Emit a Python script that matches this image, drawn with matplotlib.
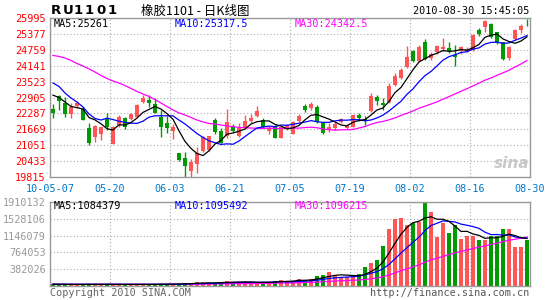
import numpy as np
import pandas as pd
import matplotlib
matplotlib.use('Agg')
import matplotlib.pyplot as plt

# daily K line of RU1101, 2010-05-07 .. 2010-08-30
open_ = [22460, 22965, 22705, 22250, 22575, 22445, 21710, 21360, 21485, 22060,
         21110, 21835, 22095, 22070, 22135, 22730, 22810, 22655, 22160, 21925,
         21615, 20735, 20540, 20060, 20320, 20835, 20855, 22030, 21605, 21420,
         21745, 21420, 21710, 22005, 22200, 22030, 21605, 21795, 21320, 21710,
         21485, 21990, 22575, 22485, 22525, 21900, 21680, 21710, 21965, 21710,
         21770, 22225, 22070, 22390, 22935, 22690, 22720, 23390, 23650, 24080,
         24715, 24335, 25075, 24450, 24685, 24780, 24820, 24555, 24715, 24725,
         24750, 25530, 25655, 25760, 25440, 25050, 24430, 25180, 25530, 25850]
high = [22650, 22990, 22935, 22705, 22770, 22550, 21900, 21835, 21770, 22290,
        21790, 22225, 22130, 22315, 22650, 22990, 22990, 22875, 22420, 22185,
        21875, 20760, 20800, 20505, 20995, 21410, 21420, 22120, 21730, 22460,
        21865, 21900, 22225, 22250, 22575, 22095, 21810, 21820, 21770, 21875,
        21990, 22265, 22655, 22720, 22615, 21965, 21900, 21940, 22120, 21865,
        22265, 22290, 22200, 23070, 23000, 22875, 23455, 23845, 24040, 24920,
        24750, 24945, 25165, 24685, 24945, 25205, 25075, 24945, 24920, 24880,
        25360, 25620, 25920, 25790, 25465, 25075, 24905, 25570, 25750, 25945]
low = [22120, 22420, 22160, 22120, 22485, 22020, 21060, 21185, 21255, 21640,
       21110, 21770, 21690, 22030, 22135, 22705, 22550, 22290, 21380, 21515,
       21305, 20450, 19815, 19825, 19960, 20800, 20835, 21475, 21125, 21320,
       21575, 21380, 21670, 21900, 22160, 21710, 21485, 21320, 21320, 21640,
       21475, 21940, 22355, 22420, 21900, 21475, 21555, 21640, 21900, 21670,
       21745, 21990, 21835, 22355, 22615, 22420, 22680, 23365, 23625, 24040,
       24295, 24295, 24365, 24365, 24585, 24715, 24625, 24140, 24585, 24660,
       24715, 25305, 25465, 25205, 25000, 24365, 24365, 25140, 25400, 25690]
close = [22305, 22770, 22250, 22525, 22705, 22020, 21125, 21795, 21770, 21745,
         21770, 22135, 21745, 22265, 22615, 22875, 22705, 22315, 21770, 21730,
         21770, 20475, 20245, 20410, 20735, 21380, 21400, 21555, 21125, 21940,
         21615, 21730, 21990, 22095, 22390, 21770, 21730, 21320, 21770, 21835,
         21965, 22200, 22420, 22655, 21965, 21515, 21770, 21865, 22070, 21795,
         22225, 22095, 22030, 22975, 22770, 22615, 23365, 23755, 23975, 24490,
         24335, 24880, 24400, 24595, 24920, 24855, 24725, 24490, 24855, 24790,
         25335, 25375, 25880, 25245, 25020, 24385, 24880, 25530, 25685, 25830]
volume = [35000, 30000, 32000, 28000, 30000, 33000, 38000, 30000, 29000, 31000,
          34000, 30000, 28000, 30000, 33000, 31000, 30000, 35000, 40000, 38000,
          36000, 45000, 62000, 55000, 85000, 62000, 62000, 58000, 85000, 115000,
          85000, 75000, 78000, 75000, 78000, 80000, 75000, 108000, 130000, 100000,
          115000, 155000, 125000, 155000, 222000, 245000, 314000, 252000, 206000, 192000,
          206000, 268000, 428000, 520000, 596000, 903000, 1299000, 1535000, 1551000, 1398000,
          1437000, 1460000, 1910132, 1689000, 1116000, 1437000, 1207000, 1384000, 1070000, 1132000,
          1130000, 1047000, 1047000, 1130000, 1130000, 1300000, 1300000, 880000, 880000, 1050000]

# moving averages at the left edge (they depend on days before the window)
ma5_head = [22995, 22905, 22730, 22555]
ma10_head = [23470, 23335, 23080, 22885, 22730, 22535, 22265, 22090, 22030]
ma30_head = [24540, 24500, 24440, 24345, 24225, 24130, 24015, 23895, 23760, 23645,
             23545, 23470, 23370, 23255, 23140, 23040, 22945, 22825, 22690, 22555,
             22420, 22305, 22225, 22130, 22030, 21955, 21895, 21875, 21835]

price_ticks = [19815, 20433, 21051, 21669, 22287, 22905, 23523, 24141, 24759, 25377, 25995]
vol_ticks = [382026, 764053, 1146079, 1528106, 1910132]
date_labels = ['10-05-07', '05-20', '06-03', '06-21', '07-05', '07-19', '08-02', '08-16', '08-30']

RED = '#ff5555'
GREEN = '#009900'
FRAME = '#999999'
MONO = 'DejaVu Sans Mono'

W, H = 545, 300


def px(x, y):
    return x / W, 1 - y / H


o = np.array(open_, float)
c = np.array(close, float)
n = len(c)
x = np.arange(n)
up = c >= o
colors = [RED if u else GREEN for u in up]

s = pd.Series(c)
ma5 = s.rolling(5).mean().to_numpy()
ma10 = s.rolling(10).mean().to_numpy()
ma30 = s.rolling(30).mean().to_numpy()
ma5[:4] = ma5_head
ma10[:9] = ma10_head
ma30[:29] = ma30_head

v = pd.Series(volume, dtype=float)
vma5 = v.rolling(5, min_periods=1).mean()
vma10 = v.rolling(10, min_periods=1).mean()
vma30 = v.rolling(30, min_periods=1).mean()

fig = plt.figure(figsize=(W / 100, H / 100), dpi=100)
fig.patch.set_facecolor('white')

ax = fig.add_axes([50 / W, 1 - 177 / H, 480 / W, 159 / H])
axv = fig.add_axes([50 / W, 1 - 285.7 / H, 480 / W, 83.4 / H])

# candles
ax.vlines(x, low, high, colors=colors, linewidth=1, zorder=2)
body_lo = np.minimum(o, c)
body_h = np.maximum(np.abs(c - o), 25)
ax.bar(x, body_h, bottom=body_lo, width=0.8, color=colors, linewidth=0, zorder=3)

ax.plot(x, ma30, color='#ff00ff', lw=0.9, zorder=4)
ax.plot(x, ma10, color='#0000ff', lw=0.9, zorder=4)
ax.plot(x, ma5, color='black', lw=0.9, zorder=4)

# volume
axv.bar(x, volume, width=0.8, color=colors, linewidth=0, zorder=2)
axv.plot(x, vma30, color='#ff00ff', lw=0.9, zorder=3)
axv.plot(x, vma10, color='#0000ff', lw=0.9, zorder=3)
axv.plot(x, vma5, color='black', lw=0.9, zorder=3)

grid_x = np.arange(-0.5, n, 10)
for a in (ax, axv):
    a.set_xlim(-0.5, n - 0.5)
    a.set_xticks(grid_x)
    a.grid(True, color='#aaaaaa', linestyle=(0, (1, 2)), linewidth=0.8, zorder=0)
    a.tick_params(length=0)
    for sp in a.spines.values():
        sp.set_color(FRAME)
        sp.set_linewidth(1)
    a.set_axisbelow(True)

ax.set_ylim(price_ticks[0], price_ticks[-1])
ax.set_yticks(price_ticks)
ax.set_yticklabels([str(t) for t in price_ticks], color='red', family=MONO, fontsize=7.3)
ax.set_xticklabels(date_labels, color='#0077cc', family=MONO, fontsize=7.3)
ax.tick_params(axis='y', pad=3)
ax.tick_params(axis='x', pad=5)

axv.set_ylim(0, vol_ticks[-1])
axv.set_yticks(vol_ticks)
axv.set_yticklabels([str(t) for t in vol_ticks], color='#999999', family=MONO, fontsize=7.3)
axv.set_xticklabels([])
axv.tick_params(axis='y', pad=3)

# header
for k, ch in enumerate('RU1101'):
    fig.text(*px(51 + k * 11.3, 11), ch, fontsize=9.5, fontweight='bold',
             family='DejaVu Sans', va='center', ha='left')
fig.text(*px(141, 11), '橡胶1101 - 日K线图', fontsize=9, va='center', ha='left',
         family=['Noto Sans CJK SC', 'DejaVu Sans'])
fig.text(*px(529, 11), '2010-08-30 15:45:05', fontsize=7.3, va='center', ha='right', family=MONO)

# MA captions
fig.text(*px(54, 24), 'MA5:25261', color='black', fontsize=7.3, family=MONO, va='center')
fig.text(*px(175, 24), 'MA10:25317.5', color='#0000ff', fontsize=7.3, family=MONO, va='center')
fig.text(*px(295, 24), 'MA30:24342.5', color='#ff00ff', fontsize=7.3, family=MONO, va='center')
fig.text(*px(54, 206), 'MA5:1084379', color='black', fontsize=7.3, family=MONO, va='center')
fig.text(*px(175, 206), 'MA10:1095492', color='#0000ff', fontsize=7.3, family=MONO, va='center')
fig.text(*px(295, 206), 'MA30:1096215', color='#ff00ff', fontsize=7.3, family=MONO, va='center')

# watermark and footer
fig.text(*px(512, 164), 'sina', color='#c8c8c8', fontsize=11, fontweight='bold',
         style='italic', ha='center', va='center')
fig.text(*px(50, 293), 'Copyright 2010 SINA.COM', color='#666666', fontsize=7.3,
         family=MONO, va='center', ha='left')
fig.text(*px(529, 293), 'http://finance.sina.com.cn', color='#555555', fontsize=7.3,
         family=MONO, va='center', ha='right')

fig.savefig('out.png', dpi=100, facecolor='white')
